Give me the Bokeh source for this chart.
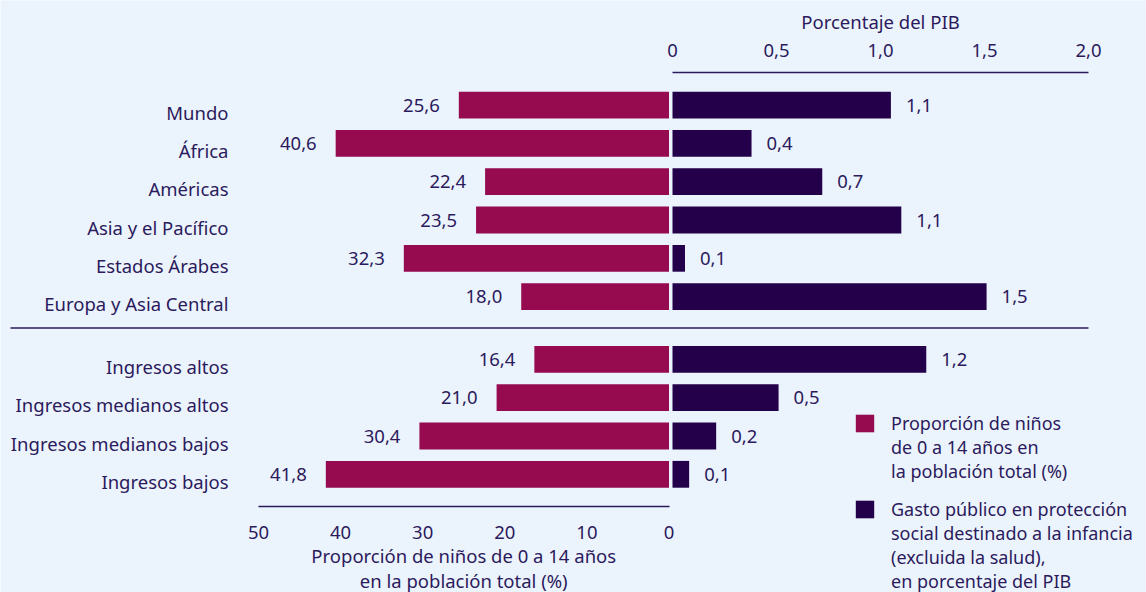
from bokeh.plotting import figure
from bokeh.models import (ColumnDataSource, Range1d, LinearAxis,
                          FixedTicker, Legend, LegendItem)
from bokeh.core.properties import value
from bokeh.embed import file_html
from bokeh.resources import INLINE

# ---------------- data ----------------
regions = ["Mundo", "África", "Américas", "Asia y el Pacífico",
           "Estados Árabes", "Europa y Asia Central"]
incomes = ["Ingresos altos", "Ingresos medianos altos",
           "Ingresos medianos bajos", "Ingresos bajos"]

child_share_regions = [25.6, 40.6, 22.4, 23.5, 32.3, 18.0]
child_share_incomes = [16.4, 21.0, 30.4, 41.8]

spend_regions = [1.05, 0.38, 0.72, 1.10, 0.06, 1.51]
spend_incomes = [1.22, 0.51, 0.21, 0.08]
spend_labels_regions = ["1,1", "0,4", "0,7", "1,1", "0,1", "1,5"]
spend_labels_incomes = ["1,2", "0,5", "0,2", "0,1"]

left_ticks = [0, 10, 20, 30, 40, 50]
right_ticks = [0, 0.5, 1.0, 1.5, 2.0]
right_tick_labels = ["0", "0,5", "1,0", "1,5", "2,0"]

left_axis_title = "Proporción de niños de 0 a 14 años\nen la población total (%)"
right_axis_title = "Porcentaje del PIB"
legend_child = ["Proporción de niños", "de 0 a 14 años en", "la población total (%)"]
legend_spend = ["Gasto público en protección", "social destinado a la infancia",
                "(excluida la salud),", "en porcentaje del PIB"]

# ---------------- style / layout ----------------
BG = "#EBF4FD"
TXT = "#2B1A5C"
MAGENTA = "#960A50"
PURPLE = "#24004B"
FONT = "Noto Sans"
FS = "18.5px"
FS_LEGEND = "18px"

W, H = 1146, 592            # the frame covers the whole canvas
GROUP_GAP = 0.64            # extra space between region and income blocks
BAR_H = 0.70

# horizontal scales (pixel anchors inside the frame)
L0_PX, L50_PX = 668.5, 258.0
l_scale = (L0_PX - L50_PX) / 50.0
left_range = Range1d(start=L0_PX / l_scale, end=-(W - L0_PX) / l_scale)
R0_PX, R2_PX = 672.0, 1088.0
r_scale = (R2_PX - R0_PX) / 2.0
right_range = Range1d(start=-R0_PX / r_scale, end=(W - R0_PX) / r_scale)

# vertical scale: first row centre and row pitch in pixels (from top)
Y0_PX, Y_PITCH = 104.6, 38.3
y_range = Range1d(start=(H - Y0_PX) / Y_PITCH, end=-Y0_PX / Y_PITCH)


def px_to_y(px):
    return (px - Y0_PX) / Y_PITCH


Y_TOP_AXIS = px_to_y(72.3)
Y_BOTTOM_AXIS = px_to_y(506.0)
SEP_X0 = (10 - R0_PX) / r_scale      # separator starts near the left edge

row_pos = list(range(len(regions))) + \
    [len(regions) + GROUP_GAP + i for i in range(len(incomes))]
sep_y = (row_pos[len(regions) - 1] + row_pos[len(regions)]) / 2

src = ColumnDataSource(dict(
    y=row_pos,
    name=regions + incomes,
    child=child_share_regions + child_share_incomes,
    child_lbl=[f"{v:.1f}".replace(".", ",") for v in child_share_regions + child_share_incomes],
    spend=spend_regions + spend_incomes,
    spend_lbl=spend_labels_regions + spend_labels_incomes,
))

p = figure(width=W, height=H, x_range=left_range, y_range=y_range,
           output_backend="svg", toolbar_location=None,
           x_axis_location=None, y_axis_location=None,
           min_border_left=0, min_border_right=0, min_border_top=0, min_border_bottom=0,
           background_fill_color=BG, border_fill_color=BG, outline_line_color=None)
p.extra_x_ranges = {"right": right_range}
p.xgrid.visible = False
p.ygrid.visible = False

r_child = p.hbar(y="y", left=0, right="child", height=BAR_H, source=src,
                 fill_color=MAGENTA, line_color=None)
r_spend = p.hbar(y="y", left=0, right="spend", height=BAR_H, source=src,
                 fill_color=PURPLE, line_color=None, x_range_name="right")
r_blank = p.hbar(y=[], left=[], right=[], height=BAR_H, fill_alpha=0, line_alpha=0)

txt_kw = dict(text_color=TXT, text_font=value(FONT), text_font_size=FS)
# value labels
p.text(x="child", y="y", text="child_lbl", source=src, x_offset=-19,
       text_align="right", text_baseline="middle", **txt_kw)
p.text(x="spend", y="y", text="spend_lbl", source=src, x_offset=15,
       x_range_name="right", text_align="left", text_baseline="middle", **txt_kw)
# category labels, anchored at the 50 mark of the left scale
p.text(x=left_ticks[-1], y="y", text="name", source=src, x_offset=-30, y_offset=7,
       text_align="right", text_baseline="middle", **txt_kw)

# separator between regional and income blocks
p.segment(x0=[SEP_X0], x1=[right_ticks[-1]], y0=[sep_y], y1=[sep_y],
          x_range_name="right", line_color=TXT, line_width=1.3)


def style_axis(ax):
    ax.major_tick_line_color = None
    ax.minor_tick_line_color = None
    ax.axis_line_color = TXT
    ax.axis_line_width = 1.5
    ax.major_label_text_color = TXT
    ax.major_label_text_font = FONT
    ax.major_label_text_font_size = FS


bottom = LinearAxis(ticker=FixedTicker(ticks=left_ticks),
                    bounds=(left_ticks[0], left_ticks[-1]),
                    fixed_location=Y_BOTTOM_AXIS)
style_axis(bottom)
bottom.major_label_standoff = 13
p.add_layout(bottom, "below")

top = LinearAxis(x_range_name="right", ticker=FixedTicker(ticks=right_ticks),
                 bounds=(right_ticks[0], right_ticks[-1]),
                 fixed_location=Y_TOP_AXIS,
                 major_label_overrides={t: s for t, s in zip(right_ticks, right_tick_labels)})
style_axis(top)
top.major_label_standoff = 10
p.add_layout(top, "above")

# axis titles, centred on each axis' span
p.text(x=[(right_ticks[0] + right_ticks[-1]) / 2], y=[Y_TOP_AXIS], text=[right_axis_title],
       x_range_name="right", y_offset=-51, text_align="center", text_baseline="middle",
       **txt_kw)
p.text(x=[(left_ticks[0] + left_ticks[-1]) / 2], y=[Y_BOTTOM_AXIS], text=[left_axis_title],
       y_offset=36, text_align="center", text_baseline="top", text_line_height=1.0,
       **txt_kw)


# legends: one item per text line; the coloured square sits on each entry's first line
def make_legend(lines, renderer, location):
    items = [LegendItem(label=lines[0], renderers=[renderer])]
    items += [LegendItem(label=t, renderers=[r_blank]) for t in lines[1:]]
    return Legend(items=items, location=location, orientation="vertical",
                  padding=0, margin=0, spacing=0, label_standoff=15,
                  glyph_width=23, glyph_height=22, label_height=20,
                  label_text_font=FONT, label_text_font_size=FS_LEGEND,
                  label_text_color=TXT,
                  border_line_alpha=0, background_fill_alpha=0)


p.add_layout(make_legend(legend_child, r_child, (853, 109)), "center")
p.add_layout(make_legend(legend_spend, r_spend, (853, -1)), "center")

open("out.html", "w").write(file_html(p, INLINE))
